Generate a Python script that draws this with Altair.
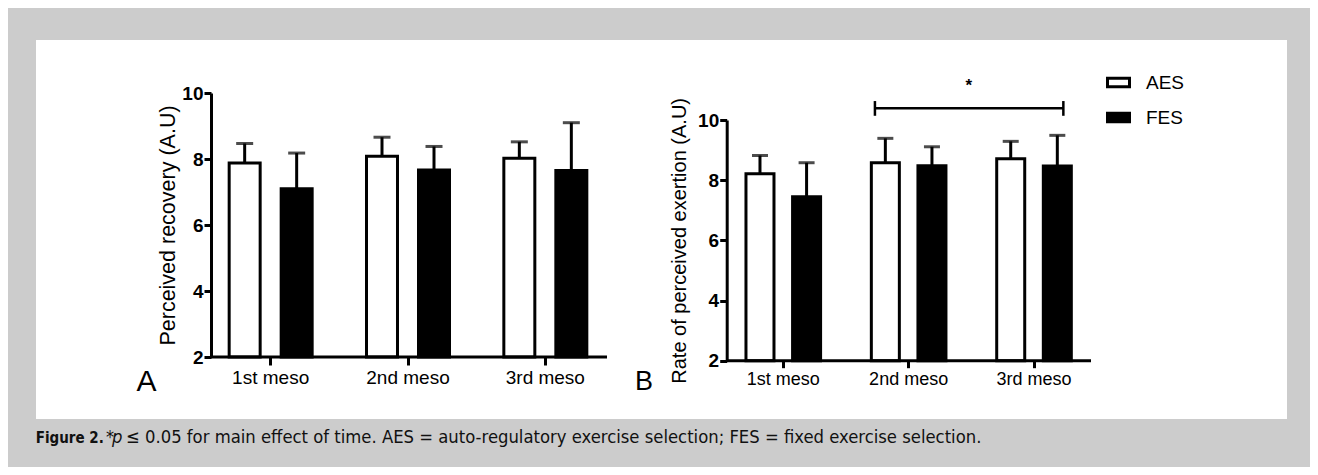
import altair as alt
import pandas as pd

# ---------------- data ----------------
mesos = ["1st meso", "2nd meso", "3rd meso"]
groups = ["AES", "FES"]

recovery_aes = [7.88, 8.08, 8.02]
recovery_aes_sd = [0.59, 0.58, 0.50]
recovery_fes = [7.10, 7.67, 7.65]
recovery_fes_sd = [1.08, 0.71, 1.45]

rpe_aes = [8.21, 8.58, 8.71]
rpe_aes_sd = [0.61, 0.81, 0.58]
rpe_fes = [7.45, 8.48, 8.47]
rpe_fes_sd = [1.13, 0.63, 1.02]

y_ticks = [2, 4, 6, 8, 10]
y_domain = [2, 10]

title_a = "Perceived recovery (A.U)"
title_b = "Rate of perceived exertion (A.U)"
caption_bold = "Figure 2."
caption_star = "*"
caption_p = "p"
caption_rest = "\u2264 0.05 for main effect of time. AES = auto-regulatory exercise selection; FES = fixed exercise selection."

FONT = "Liberation Sans, Arial, Helvetica, sans-serif"
NARROW = "DejaVu Sans Condensed, Liberation Sans Narrow, Arial Narrow, sans-serif"
W, H = 1302, 459


def frame(aes, aes_sd, fes, fes_sd):
    df = pd.DataFrame({
        "meso": mesos * 2,
        "group": [groups[0]] * 3 + [groups[1]] * 3,
        "mean": aes + fes,
        "sd": aes_sd + fes_sd,
    })
    df["upper"] = df["mean"] + df["sd"]
    return df


dfA = frame(recovery_aes, recovery_aes_sd, recovery_fes, recovery_fes_sd)
dfB = frame(rpe_aes, rpe_aes_sd, rpe_fes, rpe_fes_sd)

fill_scale = alt.Scale(domain=groups, range=["white", "black"])


def panel(df, xr, yr, off_inner, off_outer, axis_x0, axis_x1, xlabel_size,
          ylabel_size, ytitle, ytitle_size, ytitle_pad, tick_x, cap_size, legend):
    xs = alt.Scale(type="band", domain=mesos, range=xr, paddingInner=0, paddingOuter=0)
    ys = alt.Scale(domain=y_domain, range=yr, nice=False, zero=False)
    offs = alt.Scale(type="band", domain=groups, paddingInner=off_inner, paddingOuter=off_outer)
    base_y = yr[0]
    ax_x = alt.Axis(orient="bottom", offset=-(H - base_y), domain=False, tickWidth=3,
                    tickSize=tick_x, tickColor="black", labelFont=FONT,
                    labelFontSize=xlabel_size, labelColor="black", labelPadding=3,
                    labelAngle=0, title=None, grid=False, zindex=2)
    ax_y = alt.Axis(orient="left", offset=-axis_x0, values=y_ticks, domainWidth=3,
                    domainColor="black", tickWidth=3, tickSize=7, tickColor="black",
                    labelFont=FONT, labelFontWeight="bold", labelFontSize=ylabel_size,
                    labelColor="black", labelPadding=1, title=ytitle, titleFont=FONT,
                    titleFontWeight="normal", titleFontSize=ytitle_size, titleColor="black",
                    titlePadding=ytitle_pad, grid=False, zindex=2)
    base = alt.Chart(df)
    bars = base.mark_bar(stroke="black", strokeWidth=3).encode(
        x=alt.X("meso:N", scale=xs, axis=ax_x, sort=mesos),
        xOffset=alt.XOffset("group:N", scale=offs, sort=groups),
        y=alt.Y("mean:Q", scale=ys, axis=ax_y),
        y2=alt.Y2(datum=2),
        fill=alt.Fill("group:N", scale=fill_scale, legend=legend, sort=groups),
    )
    err = base.mark_rule(color="black", strokeWidth=3).encode(
        x=alt.X("meso:N", scale=xs, axis=None, sort=mesos),
        xOffset=alt.XOffset("group:N", scale=offs, sort=groups),
        y=alt.Y("mean:Q", scale=ys, axis=None),
        y2="upper:Q",
    )
    caps = base.mark_tick(color="black", thickness=3, size=cap_size).encode(
        x=alt.X("meso:N", scale=xs, axis=None, sort=mesos),
        xOffset=alt.XOffset("group:N", scale=offs, sort=groups),
        y=alt.Y("upper:Q", scale=ys, axis=None),
    )
    baseline = alt.Chart(pd.DataFrame({"v": [0]})).mark_rule(color="black", strokeWidth=3).encode(
        x=alt.value(axis_x0), x2=alt.value(axis_x1),
        y=alt.Y(datum=y_domain[0], scale=ys, axis=None),
    )
    return [bars, err, caps, baseline], xs, ys


legend = alt.Legend(title=None, orient="none", legendX=1098, legendY=62,
                    symbolType="M-1,-0.39H1V0.39H-1Z", symbolSize=484,
                    symbolStrokeColor="black", symbolStrokeWidth=3,
                    labelFont=FONT, labelFontSize=19, labelColor="black",
                    rowPadding=12, labelOffset=15, padding=0, zindex=2)

layersA, xsA, ysA = panel(dfA, [194, 606], [349, 85], 0.404, 0.5225, 203, 599,
                          19, 19, title_a, 21.5, 2, 8, 17, legend)
layersB, xsB, ysB = panel(dfB, [712.6, 1088.7], [352.7, 112], 0.399, 0.5445, 718.7, 1083,
                          18, 19, title_b, 20, 8, 7, 16, None)

one = pd.DataFrame({"v": [0]})

# significance bracket (panel B)
bracket = alt.Chart(one).mark_rule(color="black", strokeWidth=2.5).encode(
    x=alt.X(datum="2nd meso", type="nominal", scale=xsB, axis=None, bandPosition=0.231),
    x2=alt.X2(datum="3rd meso", bandPosition=0.734),
    y=alt.Y(datum=10.39, scale=ysB, axis=None),
)
bracket_l = alt.Chart(one).mark_rule(color="black", strokeWidth=2.5).encode(
    x=alt.X(datum="2nd meso", type="nominal", scale=xsB, axis=None, bandPosition=0.231),
    y=alt.Y(datum=10.63, scale=ysB, axis=None),
    y2=alt.Y2(datum=10.14),
)
bracket_r = alt.Chart(one).mark_rule(color="black", strokeWidth=2.5).encode(
    x=alt.X(datum="3rd meso", type="nominal", scale=xsB, axis=None, bandPosition=0.734),
    y=alt.Y(datum=10.63, scale=ysB, axis=None),
    y2=alt.Y2(datum=10.14),
)
star = alt.Chart(one).mark_text(text="*", font=FONT, fontSize=17, fontWeight="bold",
                                color="black", baseline="alphabetic", align="center").encode(
    x=alt.X(datum="2nd meso", type="nominal", scale=xsB, axis=None, bandPosition=0.98),
    y=alt.Y(datum=10.96, scale=ysB, axis=None),
)

# white figure panel
white = alt.Chart(one).mark_rect(fill="white").encode(
    x=alt.value(28), x2=alt.value(1279), y=alt.value(32), y2=alt.value(411)
)

letterA = alt.Chart(one).mark_text(text="A", font=FONT, fontSize=30, align="left",
                                   baseline="alphabetic", color="black").encode(
    x=alt.value(128.5), y=alt.value(382.7))
letterB = alt.Chart(one).mark_text(text="B", font=FONT, fontSize=27, align="left",
                                   baseline="alphabetic", color="black").encode(
    x=alt.value(627), y=alt.value(382))

cap_y = 434.7
cap1 = alt.Chart(one).mark_text(text=caption_bold, font=NARROW, fontSize=15, fontWeight="bold",
                                align="left", baseline="alphabetic", color="#111111").encode(
    x=alt.value(27.7), y=alt.value(cap_y))
cap2 = alt.Chart(one).mark_text(text=caption_star, font=NARROW, fontSize=18,
                                align="left", baseline="alphabetic", color="#111111").encode(
    x=alt.value(98), y=alt.value(cap_y))
cap3 = alt.Chart(one).mark_text(text=caption_p, font=NARROW, fontSize=18.3, fontStyle="italic",
                                align="left", baseline="alphabetic", color="#111111").encode(
    x=alt.value(104), y=alt.value(cap_y))
cap4 = alt.Chart(one).mark_text(text=caption_rest, font=NARROW, fontSize=18.3,
                                align="left", baseline="alphabetic", color="#111111").encode(
    x=alt.value(118), y=alt.value(cap_y))

chart = alt.layer(
    white, *layersA, *layersB, bracket, bracket_l, bracket_r, star,
    letterA, letterB, cap1, cap2, cap3, cap4,
).resolve_scale(
    x="independent", y="independent", xOffset="independent"
).properties(
    width=W, height=H, padding=0, background="#cccccc",
    autosize=alt.AutoSizeParams(type="none"),
).configure_view(stroke=None)

chart.save("out.html", embed_options={"renderer": "svg", "actions": False})
